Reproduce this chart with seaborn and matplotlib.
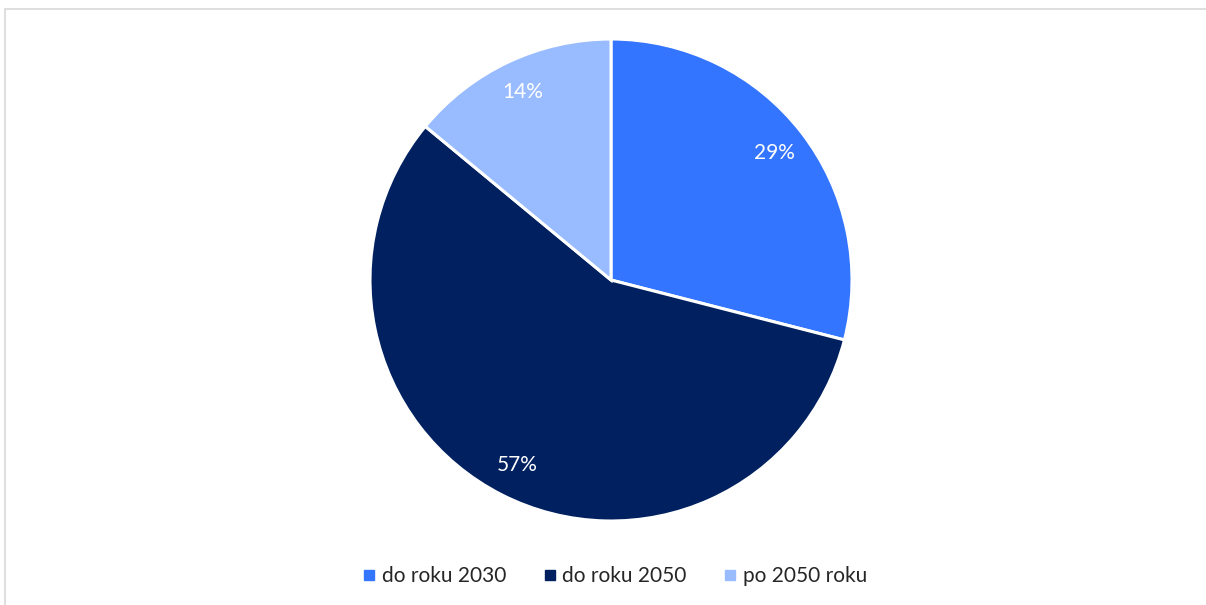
import matplotlib
matplotlib.use("Agg")
import matplotlib.pyplot as plt
from matplotlib.lines import Line2D
from matplotlib.patches import Rectangle
import seaborn as sns

# Data
categories = ["do roku 2030", "do roku 2050", "po 2050 roku"]
shares = [29, 57, 14]
colors_hex = ["#3375FF", "#002060", "#99BBFF"]

sns.set_theme(style="white")
plt.rcParams["font.family"] = ["Lato", "DejaVu Sans"]
palette = sns.color_palette(colors_hex)

fig = plt.figure(figsize=(12.06, 6.05), dpi=100)
fig.patch.set_facecolor("white")

# Chart frame (light gray border)
frame = Rectangle((4.5 / 1206, -0.05), 1.1, (605 - 8.5) / 605 + 0.05,
                  transform=fig.transFigure, fill=False,
                  edgecolor="#D9D9D9", linewidth=1.2, clip_on=False)
fig.patches.append(frame)

ax = fig.add_axes([(611 - 241) / 1206, (605 - 521) / 605, 482 / 1206, 482 / 605])
wedges, texts, autotexts = ax.pie(
    shares,
    colors=palette,
    startangle=90,
    counterclock=False,
    autopct=lambda p: f"{p:.0f}%",
    pctdistance=0.86,
    wedgeprops=dict(edgecolor="white", linewidth=2.2),
    textprops=dict(color="white", fontsize=15),
)
ax.set_xlim(-1.0, 1.0)
ax.set_ylim(-1.0, 1.0)
ax.set_aspect("equal")
ax.axis("off")

handles = [Line2D([0], [0], marker="s", linestyle="none", markersize=7,
                  markerfacecolor=c, markeredgecolor=c) for c in palette]
fig.legend(handles, categories, loc="center", bbox_to_anchor=(614 / 1206, (605 - 576) / 605),
           ncol=3, frameon=False, fontsize=15, handletextpad=0.2, columnspacing=1.7,
           handlelength=0.8)

fig.savefig("out.png", dpi=100, facecolor="white")
